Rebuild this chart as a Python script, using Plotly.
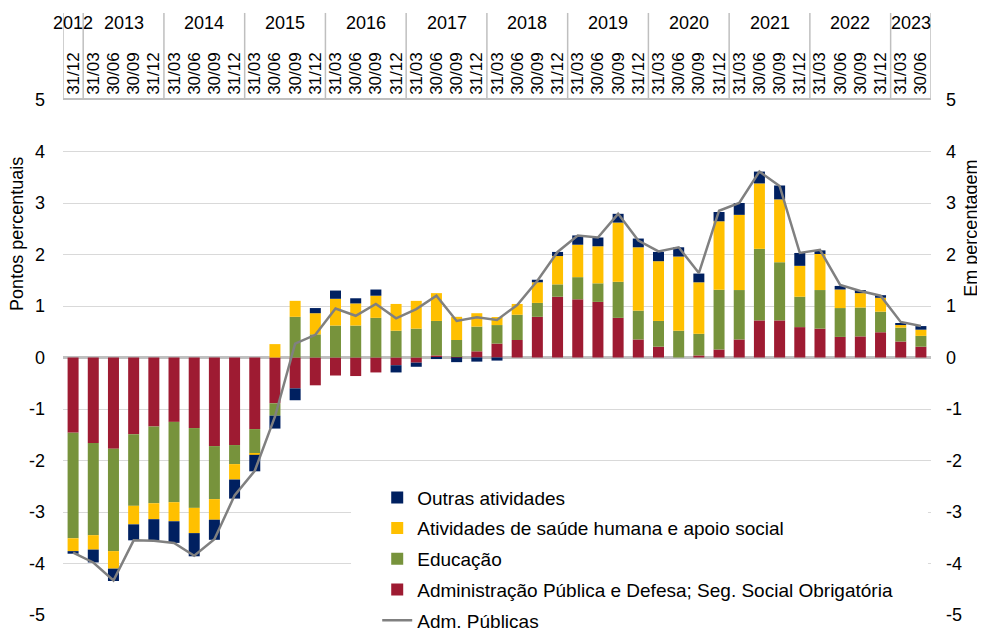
import plotly.graph_objects as go

# ---------------- data ----------------
tick_labels = ["31/12"] + ["31/03", "30/06", "30/09", "31/12"] * 10 + ["31/03", "30/06"]
years = ["2012", "2013", "2014", "2015", "2016", "2017", "2018", "2019", "2020", "2021", "2022", "2023"]
year_counts = [1, 4, 4, 4, 4, 4, 4, 4, 4, 4, 4, 2]
y_ticks = [-5, -4, -3, -2, -1, 0, 1, 2, 3, 4, 5]
y_tick_text = ["-5", "-4", "-3", "-2", "-1", "0", "1", "2", "3", "4", "5"]

adm_publica = [-1.46, -1.66, -1.77, -1.49, -1.34, -1.25, -1.37, -1.72, -1.70, -1.39,
               -0.89, -0.60, -0.54, -0.35, -0.36, -0.29, -0.15, -0.10, 0.04, 0.01,
               0.12, 0.27, 0.34, 0.79, 1.18, 1.13, 1.08, 0.77, 0.35, 0.21,
               0.00, 0.04, 0.155, 0.35, 0.72, 0.72, 0.59, 0.56, 0.40, 0.41,
               0.49, 0.31, 0.21]
educacao = [-2.05, -1.79, -1.99, -1.39, -1.49, -1.56, -1.55, -1.03, -0.37, -0.47,
            -0.24, 0.79, 0.45, 0.62, 0.62, 0.77, 0.52, 0.56, 0.67, 0.33,
            0.48, 0.36, 0.49, 0.27, 0.24, 0.43, 0.36, 0.70, 0.56, 0.50,
            0.52, 0.42, 1.16, 0.96, 1.39, 1.13, 0.59, 0.75, 0.56, 0.56,
            0.40, 0.27, 0.21]
saude = [-0.25, -0.28, -0.34, -0.36, -0.31, -0.37, -0.49, -0.40, -0.30, -0.03,
         0.26, 0.31, 0.41, 0.52, 0.43, 0.43, 0.52, 0.54, 0.54, 0.45,
         0.26, 0.155, 0.21, 0.40, 0.55, 0.63, 0.72, 1.15, 1.23, 1.16,
         1.44, 1.00, 1.33, 1.46, 1.27, 1.22, 0.60, 0.70, 0.36, 0.28,
         0.27, 0.05, 0.12]
outras = [-0.05, -0.25, -0.24, -0.31, -0.41, -0.42, -0.45, -0.39, -0.37, -0.32,
          -0.25, -0.23, 0.10, 0.16, 0.10, 0.12, -0.14, -0.08, -0.03, -0.09,
          -0.08, -0.06, 0.00, 0.05, 0.08, 0.18, 0.17, 0.17, 0.17, 0.18,
          0.18, 0.17, 0.18, 0.23, 0.23, 0.27, 0.25, 0.07, 0.07, 0.06,
          0.05, 0.04, 0.07]
adm_publicas_total = [-3.79, -3.98, -4.33, -3.55, -3.56, -3.60, -3.85, -3.53, -2.68, -2.20,
                      -1.15, 0.27, 0.44, 0.95, 0.81, 1.04, 0.76, 0.94, 1.20, 0.71,
                      0.78, 0.73, 1.02, 1.49, 2.05, 2.37, 2.33, 2.79, 2.27, 2.06,
                      2.14, 1.64, 2.85, 3.00, 3.61, 3.33, 2.03, 2.09, 1.41, 1.29,
                      1.20, 0.69, 0.61]

x = list(range(len(tick_labels)))

FONT = "Liberation Sans, Arial, sans-serif"
FS = 18
C_RED, C_GREEN, C_YEL, C_NAVY, C_GRAY = "#9E1B32", "#77933C", "#FFC000", "#002060", "#808080"

fig = go.Figure()
series = [
    ("Administração Pública e Defesa; Seg. Social Obrigatória", adm_publica, C_RED, 4),
    ("Educação", educacao, C_GREEN, 3),
    ("Atividades de saúde humana e apoio social", saude, C_YEL, 2),
    ("Outras atividades", outras, C_NAVY, 1),
]
for name, vals, col, rank in series:
    fig.add_trace(go.Bar(x=x, y=vals, name=name, marker=dict(color=col, line=dict(width=0)),
                         legendrank=rank, legendgroup=name))
fig.add_trace(go.Scatter(x=x, y=adm_publicas_total, name="Adm. Públicas", mode="lines",
                         line=dict(color=C_GRAY, width=2.5), yaxis="y2",
                         legendrank=5, legendgroup="line"))

# header: year labels and separators
shapes = []
annotations = []
start = 0
bounds = [-0.5]
for yr, n in zip(years, year_counts):
    center = start + (n - 1) / 2
    annotations.append(dict(x=center, y=1.1495, xref="x", yref="paper", text=yr, showarrow=False,
                            font=dict(family=FONT, size=FS, color="black"), xanchor="center", yanchor="middle"))
    start += n
    bounds.append(start - 0.5)
for b in bounds:
    shapes.append(dict(type="line", xref="x", yref="paper", x0=b, x1=b, y0=1, y1=1.169,
                       line=dict(color="#BFBFBF", width=1.5)))

# white area behind legend (hides grid lines)
shapes.append(dict(type="rect", xref="x", yref="y", x0=13.77, x1=42.35, y0=-5.0, y1=-2.2,
                   fillcolor="white", line=dict(width=0), layer="between"))

annotations.append(dict(x=-0.053, y=0.74, xref="paper", yref="paper", text="Pontos percentuais",
                        textangle=-90, showarrow=False, font=dict(family=FONT, size=FS, color="black"),
                        xanchor="center", yanchor="middle"))
annotations.append(dict(x=1.046, y=0.752, xref="paper", yref="paper", text="Em percentagem",
                        textangle=-90, showarrow=False, font=dict(family=FONT, size=FS, color="black"),
                        xanchor="center", yanchor="middle"))

# the page adds an 8px body margin, so the figure is 8px smaller and margins shifted
fig.update_layout(
    width=977, height=622,
    margin=dict(l=55, r=54, t=92, b=15, autoexpand=False),
    paper_bgcolor="white", plot_bgcolor="white",
    barmode="relative", bargap=0.455,
    font=dict(family=FONT, size=FS, color="black"),
    showlegend=True,
    legend=dict(x=0.362, y=0.265, xanchor="left", yanchor="top", bgcolor="rgba(0,0,0,0)",
                font=dict(family=FONT, size=19, color="black"), tracegroupgap=3,
                itemwidth=30),
    xaxis=dict(side="top", range=[-0.5, 42.5], tickmode="array", tickvals=x, ticktext=tick_labels,
               tickangle=-90, tickfont=dict(family=FONT, size=17, color="black"),
               showgrid=False, zeroline=False, showline=True, linecolor="#BFBFBF", linewidth=1.5,
               ticks="", automargin=False),
    yaxis=dict(range=[-5, 5], tickmode="array", tickvals=y_ticks, ticktext=y_tick_text,
               showgrid=True, gridcolor="#D9D9D9", gridwidth=1,
               zeroline=True, zerolinecolor="#BFBFBF", zerolinewidth=3,
               tickfont=dict(family=FONT, size=FS, color="black"), ticklabelstandoff=17,
               showline=False, automargin=False),
    yaxis2=dict(range=[-5, 5], tickmode="array", tickvals=y_ticks, ticktext=y_tick_text,
                overlaying="y", side="right", showgrid=False,
                zeroline=False, tickfont=dict(family=FONT, size=FS, color="black"),
                ticklabelstandoff=14, showline=False, automargin=False),
    shapes=shapes, annotations=annotations,
)

fig.write_html("out.html")
